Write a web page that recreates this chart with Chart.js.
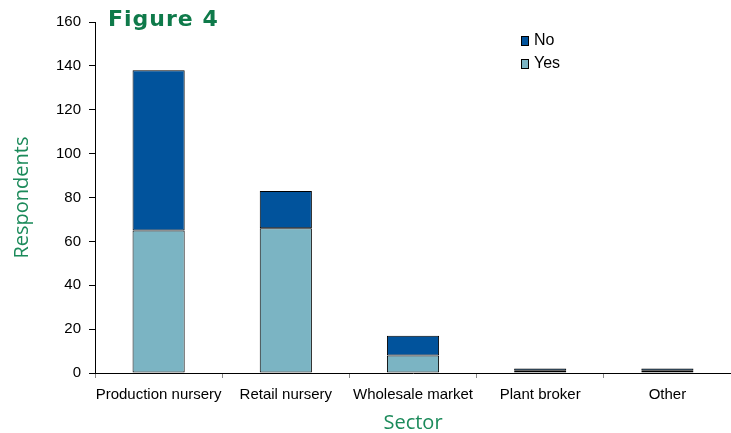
<!DOCTYPE html>
<html>
<head>
<meta charset="utf-8">
<script src="https://cdn.jsdelivr.net/npm/chart.js@4"></script>
<style>
  html, body { margin: 0; padding: 0; background: #fff; }
  #wrap { width: 731px; height: 433px; }
</style>
</head>
<body>
<div id="wrap"><canvas id="sectorChart" width="731" height="433"></canvas></div>
<script>
// Respondents by sector
const sectors = ['Production nursery', 'Retail nursery', 'Wholesale market', 'Plant broker', 'Other'];
const yesCounts = [65, 66, 8, 1, 1];
const noCounts = [73, 17, 9, 1, 1];
const yTicks = [0, 20, 40, 60, 80, 100, 120, 140, 160];

const green = '#1b8a5a';

// "Figure 4" heading and the small legend in the top right
const overlay = {
    id: 'overlay',
    afterDraw(chart) {
        const c = chart.ctx;
        c.save();
        c.fillStyle = '#0f7a4a';
        c.font = 'bold 22px "DejaVu Sans", sans-serif';
        c.letterSpacing = '1px';
        c.textBaseline = 'middle';
        c.fillText('Figure 4', 108, 20);
        c.letterSpacing = '0px';

        const items = chart.data.datasets.slice().reverse();
        items.forEach((ds, i) => {
            const y = 41 + i * 23;
            c.fillStyle = ds.backgroundColor;
            c.fillRect(521, y - 5, 8, 10);
            c.strokeStyle = '#000';
            c.lineWidth = 1;
            c.strokeRect(521.5, y - 4.5, 7, 9);
            c.fillStyle = '#000';
            c.font = '16px "Liberation Sans", Arial, sans-serif';
            c.fillText(ds.label, 534, y);
        });
        c.restore();
    }
};

new Chart(document.getElementById('sectorChart').getContext('2d'), {
    type: 'bar',
    data: {
        labels: sectors,
        datasets: [
            { label: 'Yes', data: yesCounts, backgroundColor: '#7bb4c3', borderColor: '#000', borderWidth: 1, borderSkipped: false },
            { label: 'No', data: noCounts, backgroundColor: '#01539c', borderColor: '#000', borderWidth: 1, borderSkipped: false }
        ]
    },
    options: {
        responsive: false,
        animation: false,
        layout: { padding: { top: 22, left: 10, right: 0, bottom: 0 } },
        plugins: { legend: { display: false }, tooltip: { enabled: false } },
        datasets: { bar: { categoryPercentage: 1, barPercentage: 0.41 } },
        scales: {
            x: {
                stacked: true,
                afterFit: axis => { axis.height = 60; },
                grid: { drawOnChartArea: false, color: '#888', tickLength: 5, offset: true },
                border: { color: '#000', width: 1 },
                ticks: { color: '#000', font: { family: 'Liberation Sans', size: 15 }, padding: 8, maxRotation: 0, autoSkip: false },
                title: { display: true, text: 'Sector', color: green, font: { family: 'Open Sans', size: 20, lineHeight: 1 }, padding: { top: 2, bottom: 0 } }
            },
            y: {
                stacked: true,
                min: 0,
                max: 160,
                afterBuildTicks: axis => { axis.ticks = yTicks.map(v => ({ value: v })); },
                grid: { drawOnChartArea: false, color: '#000', tickLength: 6 },
                border: { color: '#000', width: 1 },
                ticks: { color: '#000', font: { family: 'Liberation Sans', size: 15 }, padding: 8 },
                title: { display: true, text: 'Respondents', color: green, font: { family: 'Open Sans', size: 20 }, padding: { top: 0, bottom: 14 } }
            }
        }
    },
    plugins: [overlay]
});
</script>
</body>
</html>
